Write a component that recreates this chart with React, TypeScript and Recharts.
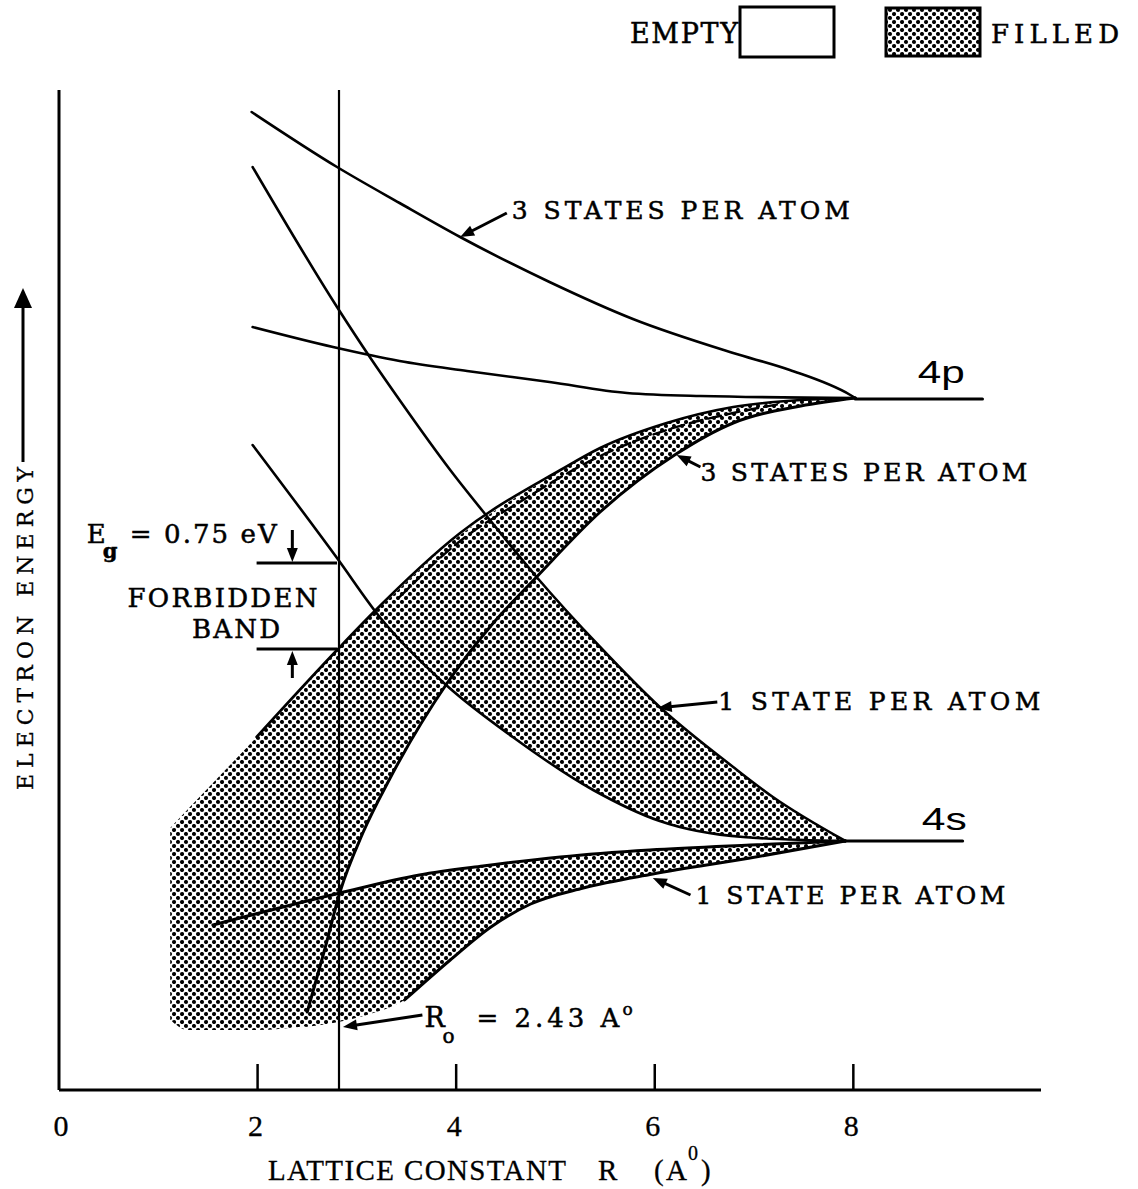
import React from 'react';
import { ComposedChart, Line, Area, XAxis, YAxis, ReferenceLine, ReferenceDot } from 'recharts';

type Pt = { x: number; y: number };
type BandPt = { x: number; r: [number, number] };

const W = 1138;
const H = 1189;
const SERIF = '"DejaVu Serif", "Liberation Serif", serif';
const NARROW = '"Liberation Serif", serif';
const SANS = '"Liberation Sans", Arial, sans-serif';

// Lattice constant axis (Å)
const xTicks = [0, 2, 4, 6, 8];
const X_MAX = 9.89;
// Equilibrium lattice constant marker
const R0_X = 2.82;

// ---- band edge curves: x = lattice constant R, y = electron energy (arbitrary) ----
const upper4pTop: Pt[] = [
  { x: 1.94, y: 97.8 }, { x: 2.8, y: 92.3 }, { x: 3.43, y: 88.7 }, { x: 4.04, y: 85.3 },
  { x: 4.94, y: 80.8 }, { x: 5.78, y: 77.1 }, { x: 6.79, y: 73.7 }, { x: 7.36, y: 72.0 },
  { x: 7.97, y: 69.5 }, { x: 8.02, y: 69.2 },
];
const upper4pBottom: Pt[] = [
  { x: 1.95, y: 76.3 }, { x: 2.76, y: 74.3 }, { x: 3.43, y: 72.9 }, { x: 4.11, y: 71.9 },
  { x: 4.94, y: 70.8 }, { x: 5.72, y: 69.7 }, { x: 6.46, y: 69.4 }, { x: 8.02, y: 69.2 },
];
const upper4sTop: Pt[] = [
  { x: 1.95, y: 92.3 }, { x: 2.8, y: 78.3 }, { x: 3.13, y: 73.3 }, { x: 3.43, y: 69.0 },
  { x: 3.94, y: 62.0 }, { x: 4.34, y: 57.0 }, { x: 4.81, y: 51.3 }, { x: 5.45, y: 44.3 },
  { x: 6.05, y: 38.3 }, { x: 6.79, y: 32.3 }, { x: 7.19, y: 29.3 }, { x: 7.92, y: 24.9 },
];
const upper4sBottom: Pt[] = [
  { x: 1.95, y: 64.5 }, { x: 2.8, y: 53.2 }, { x: 3.23, y: 47.3 }, { x: 3.91, y: 40.4 },
  { x: 4.57, y: 35.3 }, { x: 5.38, y: 30.0 }, { x: 6.05, y: 26.9 }, { x: 6.89, y: 25.3 },
  { x: 7.92, y: 24.9 },
];
const lower4pTop: Pt[] = [
  { x: 1.99, y: 35.3 }, { x: 2.8, y: 44.0 }, { x: 3.16, y: 47.7 }, { x: 4.04, y: 55.7 },
  { x: 5.05, y: 62.0 }, { x: 5.45, y: 64.2 }, { x: 6.12, y: 66.7 }, { x: 6.79, y: 68.3 },
  { x: 7.47, y: 69.0 }, { x: 8.02, y: 69.2 },
];
const lower4pInner: Pt[] = [
  { x: 3.43, y: 49.3 }, { x: 4.04, y: 54.9 }, { x: 4.64, y: 58.8 }, { x: 5.45, y: 63.4 },
  { x: 6.12, y: 66.0 }, { x: 6.79, y: 67.7 }, { x: 7.26, y: 68.6 },
];
const lower4pBottom: Pt[] = [
  { x: 2.5, y: 7.8 }, { x: 2.68, y: 14.2 }, { x: 2.83, y: 19.8 }, { x: 3.06, y: 25.7 },
  { x: 3.33, y: 31.1 }, { x: 3.91, y: 40.7 }, { x: 4.34, y: 46.3 }, { x: 4.81, y: 51.3 },
  { x: 5.45, y: 57.8 }, { x: 6.2, y: 63.5 }, { x: 6.79, y: 66.7 }, { x: 7.47, y: 68.4 },
  { x: 8.02, y: 69.2 },
];
const lower4sTop: Pt[] = [
  { x: 1.55, y: 16.5 }, { x: 2.83, y: 19.7 }, { x: 3.63, y: 21.5 }, { x: 4.27, y: 22.4 },
  { x: 5.05, y: 23.3 }, { x: 5.95, y: 24.0 }, { x: 6.96, y: 24.5 }, { x: 7.92, y: 24.9 },
];
const lower4sBottom: Pt[] = [
  { x: 3.48, y: 9.0 }, { x: 3.94, y: 13.0 }, { x: 4.35, y: 16.3 }, { x: 4.75, y: 18.6 },
  { x: 5.28, y: 20.2 }, { x: 5.98, y: 21.6 }, { x: 6.96, y: 23.2 }, { x: 7.92, y: 24.9 },
];
const level4p: Pt[] = [{ x: 8.02, y: 69.1 }, { x: 9.3, y: 69.1 }];
const level4s: Pt[] = [{ x: 7.92, y: 24.9 }, { x: 9.1, y: 24.9 }];

// ---- filled (occupied) regions as [low, high] energy ranges ----
const fillBlob: BandPt[] = [
  { x: 1.12, r: [7.0, 26.2] }, { x: 1.3, r: [6.0, 28.1] }, { x: 1.99, r: [6.0, 35.3] },
  { x: 2.5, r: [6.4, 40.8] },
];
const fill4p: BandPt[] = [
  { x: 2.5, r: [7.8, 40.8] }, { x: 2.68, r: [14.2, 42.7] }, { x: 2.83, r: [19.8, 44.3] },
  { x: 3.06, r: [25.7, 46.7] }, { x: 3.33, r: [31.1, 49.2] }, { x: 3.91, r: [40.7, 54.5] },
  { x: 4.34, r: [46.3, 57.6] }, { x: 4.81, r: [51.3, 60.5] }, { x: 5.45, r: [57.8, 64.2] },
  { x: 6.2, r: [63.5, 66.9] }, { x: 6.79, r: [66.7, 68.3] }, { x: 7.47, r: [68.4, 69.0] },
  { x: 8.02, r: [69.2, 69.2] },
];
const fillLower4s: BandPt[] = [
  { x: 2.48, r: [6.3, 18.8] }, { x: 2.76, r: [6.7, 19.6] }, { x: 3.1, r: [7.5, 20.3] },
  { x: 3.48, r: [9.0, 21.1] }, { x: 3.94, r: [13.0, 21.9] }, { x: 4.35, r: [16.3, 22.5] },
  { x: 4.75, r: [18.6, 23.0] }, { x: 5.28, r: [20.2, 23.5] }, { x: 5.98, r: [21.6, 24.0] },
  { x: 6.96, r: [23.2, 24.5] }, { x: 7.92, r: [24.9, 24.9] },
];
const fillUpper4sLeft: BandPt[] = [
  { x: 3.9, r: [40.5, 40.5] }, { x: 4.34, r: [37.1, 46.3] }, { x: 4.57, r: [35.3, 48.8] },
  { x: 4.81, r: [33.8, 51.3] },
];
const fillUpper4sRight: BandPt[] = [
  { x: 4.81, r: [33.8, 51.3] }, { x: 5.38, r: [30.0, 45.1] }, { x: 6.05, r: [26.9, 38.3] },
  { x: 6.79, r: [25.4, 32.3] }, { x: 7.19, r: [25.2, 29.3] }, { x: 7.92, r: [24.9, 24.9] },
];

// ---- annotations ----
const stateLabels = [
  { x: 4.56, y: 87.1, text: '3 STATES PER ATOM', len: 338 },
  { x: 6.46, y: 60.9, text: '3 STATES PER ATOM', len: 327 },
  { x: 6.64, y: 38.0, text: '1 STATE PER ATOM', len: 322 },
  { x: 6.41, y: 18.6, text: '1 STATE PER ATOM', len: 310 },
];
const levelLabels = [
  { x: 8.65, y: 70.7, text: '4p', len: 47 },
  { x: 8.69, y: 26.0, text: '4s', len: 45 },
];
const arrows = [
  { from: { x: 4.51, y: 87.7 }, to: { x: 4.04, y: 85.3 } },
  { from: { x: 6.46, y: 62.3 }, to: { x: 6.22, y: 63.5 } },
  { from: { x: 6.63, y: 38.8 }, to: { x: 6.03, y: 38.2 } },
  { from: { x: 6.36, y: 19.5 }, to: { x: 5.98, y: 21.2 } },
  { from: { x: 3.66, y: 7.5 }, to: { x: 2.86, y: 6.3 } },
  { from: { x: 2.35, y: 56.0 }, to: { x: 2.35, y: 52.8 } },
  { from: { x: 2.35, y: 41.2 }, to: { x: 2.35, y: 43.9 } },
];
// Band edges at R0 bracketing the forbidden band
const gapBars = [
  { x1: 1.99, x2: 2.8, y: 52.7 },
  { x1: 1.99, x2: 2.8, y: 44.1 },
];
const egAnchor = { x: 0.28, y: 54.7 };
const forbiddenAnchor = { x: 0.69, y: 48.3 };
const bandAnchor = { x: 1.34, y: 45.2 };
const r0Anchor = { x: 3.68, y: 6.3 };

const INK = { fill: '#000', stroke: '#000', strokeWidth: 0.5 };

const ArrowShape = (p: any) => {
  const { x1, y1, x2, y2 } = p;
  const dx = x2 - x1;
  const dy = y2 - y1;
  const len = Math.hypot(dx, dy) || 1;
  const ux = dx / len;
  const uy = dy / len;
  const hl = 14;
  const hw = 5.5;
  const bx = x2 - ux * hl;
  const by = y2 - uy * hl;
  return (
    <g>
      <line x1={x1} y1={y1} x2={bx + ux * 2} y2={by + uy * 2} stroke="#000" strokeWidth={3} />
      <polygon
        points={`${x2},${y2} ${bx - uy * hw},${by + ux * hw} ${bx + uy * hw},${by - ux * hw}`}
        fill="#000"
      />
    </g>
  );
};

const XTick = (p: any) => {
  const { x, y, payload } = p;
  return (
    <g>
      {payload.value !== 0 && (
        <line x1={x} x2={x} y1={y} y2={y - 26} stroke="#000" strokeWidth={2.5} />
      )}
      <text
        x={x + (payload.value === 0 ? 2 : -2)}
        y={y + 46}
        textAnchor="middle"
        fontFamily={NARROW}
        fontSize={30}
        {...INK}
        strokeWidth={0.3}
      >
        {payload.value}
      </text>
    </g>
  );
};

const textAt = (content: (cx: number, cy: number) => React.ReactElement) => (p: any) =>
  content(p.cx, p.cy);

const curve = (data: Pt[], key: string, width = 2.6, dash?: string) => (
  <Line
    key={key}
    data={data}
    dataKey="y"
    type="monotone"
    stroke="#000"
    strokeWidth={width}
    strokeDasharray={dash}
    strokeLinecap="round"
    dot={false}
    activeDot={false}
    isAnimationActive={false}
  />
);

const band = (data: BandPt[], key: string) => (
  <Area
    key={key}
    data={data}
    dataKey="r"
    type="monotone"
    stroke="none"
    fill="url(#halftone)"
    fillOpacity={1}
    dot={false}
    activeDot={false}
    isAnimationActive={false}
  />
);

export default function App() {
  return (
    <div style={{ position: 'absolute', left: 0, top: 0, width: W, height: H, background: '#fff' }}>
      <svg width={0} height={0} style={{ position: 'absolute' }}>
        <defs>
          <pattern id="halftone" width="8" height="8" patternUnits="userSpaceOnUse">
            <rect width="8" height="8" fill="#fff" />
            <circle cx="2" cy="2" r="2.05" fill="#000" />
            <circle cx="6" cy="6" r="2.05" fill="#000" />
          </pattern>
        </defs>
      </svg>
      <ComposedChart width={W} height={H} margin={{ top: 90, right: W - 1041, bottom: H - 1091, left: 58 }}>
        <XAxis
          type="number"
          dataKey="x"
          domain={[0, X_MAX]}
          allowDataOverflow
          ticks={xTicks}
          tick={<XTick />}
          tickLine={false}
          tickSize={0}
          tickMargin={0}
          height={1}
          axisLine={{ stroke: '#000', strokeWidth: 3 }}
        />
        <YAxis
          type="number"
          domain={[0, 100]}
          allowDataOverflow
          tick={false}
          tickLine={false}
          width={1}
          axisLine={{ stroke: '#000', strokeWidth: 3 }}
        />

        {band(fillBlob, 'fb')}
        {band(fill4p, 'f4p')}
        {band(fillLower4s, 'fl4s')}
        {band(fillUpper4sLeft, 'fu4sl')}
        {band(fillUpper4sRight, 'fu4sr')}

        <ReferenceLine x={R0_X} stroke="#000" strokeWidth={2.2} />

        {curve(upper4pTop, 'u4pt')}
        {curve(upper4pBottom, 'u4pb')}
        {curve(upper4sTop, 'u4st')}
        {curve(upper4sBottom, 'u4sb')}
        {curve(lower4pTop, 'l4pt')}
        {curve(lower4pInner, 'l4pi', 2.4, '13 6')}
        {curve(lower4pBottom, 'l4pb', 3)}
        {curve(lower4sTop, 'l4st', 3)}
        {curve(lower4sBottom, 'l4sb', 3)}
        {curve(level4p, 'lv4p', 3.2)}
        {curve(level4s, 'lv4s', 3.2)}

        {gapBars.map((g, i) => (
          <ReferenceLine
            key={`gb${i}`}
            segment={[{ x: g.x1, y: g.y }, { x: g.x2, y: g.y }]}
            stroke="#000"
            strokeWidth={3}
          />
        ))}
        {arrows.map((a, i) => (
          <ReferenceLine
            key={`ar${i}`}
            segment={[a.from, a.to]}
            shape={ArrowShape}
            stroke="#000"
          />
        ))}

        {stateLabels.map((l, i) => (
          <ReferenceDot
            key={`sl${i}`}
            x={l.x}
            y={l.y}
            r={0}
            shape={textAt((cx, cy) => (
              <text x={cx} y={cy} fontFamily={SERIF} fontSize={25} textLength={l.len} lengthAdjust="spacing" {...INK}>
                {l.text}
              </text>
            ))}
          />
        ))}
        {levelLabels.map((l, i) => (
          <ReferenceDot
            key={`ll${i}`}
            x={l.x}
            y={l.y}
            r={0}
            shape={textAt((cx, cy) => (
              <text x={cx} y={cy} fontFamily={SANS} fontSize={32} textLength={l.len} lengthAdjust="spacingAndGlyphs" fill="#000">
                {l.text}
              </text>
            ))}
          />
        ))}
        <ReferenceDot
          x={egAnchor.x}
          y={egAnchor.y}
          r={0}
          shape={textAt((cx, cy) => (
            <g fontFamily={SERIF} {...INK}>
              <text x={cx} y={cy} fontSize={26}>E</text>
              <text x={cx + 16} y={cy + 15} fontSize={21} fontWeight="bold">g</text>
              <text x={cx + 43} y={cy} fontSize={26} textLength={147} lengthAdjust="spacing">= 0.75 eV</text>
            </g>
          ))}
        />
        <ReferenceDot
          x={forbiddenAnchor.x}
          y={forbiddenAnchor.y}
          r={0}
          shape={textAt((cx, cy) => (
            <text x={cx} y={cy} fontFamily={SERIF} fontSize={26} textLength={190} lengthAdjust="spacing" {...INK}>
              FORBIDDEN
            </text>
          ))}
        />
        <ReferenceDot
          x={bandAnchor.x}
          y={bandAnchor.y}
          r={0}
          shape={textAt((cx, cy) => (
            <text x={cx} y={cy} fontFamily={SERIF} fontSize={26} textLength={88} lengthAdjust="spacing" {...INK}>
              BAND
            </text>
          ))}
        />
        <ReferenceDot
          x={r0Anchor.x}
          y={r0Anchor.y}
          r={0}
          shape={textAt((cx, cy) => (
            <g fontFamily={SERIF} {...INK}>
              <text x={cx} y={cy} fontSize={27}>R</text>
              <text x={cx + 18} y={cy + 16} fontSize={20}>o</text>
              <text x={cx + 52} y={cy} fontSize={26} textLength={143} lengthAdjust="spacing">= 2.43 A</text>
              <text x={cx + 198} y={cy - 12} fontSize={17}>o</text>
            </g>
          ))}
        />
      </ComposedChart>

      <svg
        width={W}
        height={H}
        style={{ position: 'absolute', left: 0, top: 0, pointerEvents: 'none' }}
      >
        {/* legend */}
        <text x={630} y={43} fontFamily={SERIF} fontSize={27} textLength={108} lengthAdjust="spacing" {...INK}>
          EMPTY
        </text>
        <rect x={740} y={7} width={94} height={50} fill="#fff" stroke="#000" strokeWidth={3} />
        <rect x={886} y={8} width={94} height={48} fill="url(#halftone)" stroke="#000" strokeWidth={3} />
        <text x={991} y={43} fontFamily={SERIF} fontSize={26} textLength={128} lengthAdjust="spacing" {...INK}>
          FILLED
        </text>

        {/* energy axis title with upward arrow */}
        <text
          transform="translate(33,790) rotate(-90)"
          fontFamily={SERIF}
          fontSize={22}
          textLength={323}
          lengthAdjust="spacing"
          {...INK}
          strokeWidth={0.3}
        >
          ELECTRON ENERGY
        </text>
        <line x1={23} y1={462} x2={23} y2={302} stroke="#000" strokeWidth={3} />
        <polygon points="23,288 14,308 32,308" fill="#000" />

        {/* lattice constant axis title */}
        <g fontFamily={NARROW} fontSize={29} {...INK} strokeWidth={0.3}>
          <text x={268} y={1180} textLength={298} lengthAdjust="spacing">LATTICE CONSTANT</text>
          <text x={598} y={1180}>R</text>
          <text x={654} y={1180}>(</text>
          <text x={666} y={1180}>A</text>
          <text x={688} y={1160} fontSize={20}>0</text>
          <text x={701} y={1180}>)</text>
        </g>
      </svg>
    </div>
  );
}
